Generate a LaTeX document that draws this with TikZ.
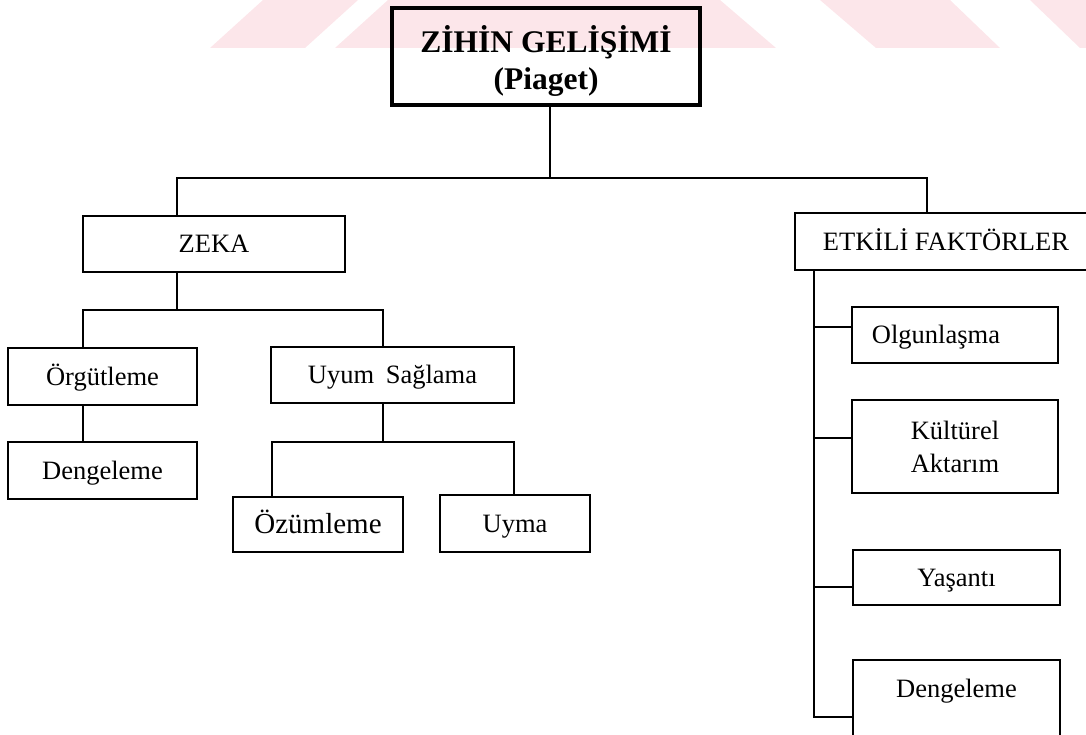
\documentclass[tikz,border=0pt]{standalone}
\usepackage{fontspec}
\setmainfont{Liberation Serif}
\definecolor{filigran}{HTML}{FCE6EA}

\begin{document}
\begin{tikzpicture}[x=1pt, y=-1pt,
  kutu/.style={draw, line width=1.6pt, inner sep=0pt, font=\fontsize{26.5}{33}\selectfont},
  satir/.style={kutu, text height=20pt, text depth=2.5pt},
  ince/.style={line width=1.8pt},
  kalin/.style={line width=2.6pt}]
\clip (0,0) rectangle (1086,735);
\fill[filigran] (210,48) -- (263,0) -- (358,0) -- (305,48) -- cycle;
\fill[filigran] (335,48) -- (388,0) -- (720,0) -- (776,48) -- cycle;
\fill[filigran] (876,48) -- (820,0) -- (950,0) -- (1000,48) -- cycle;
\fill[filigran] (1080,48) -- (1030,0) -- (1086,0) -- (1086,48) -- cycle;

\node[kutu, line width=4pt, minimum width=308pt, minimum height=97pt, align=center, font=\fontsize{31.5}{37}\selectfont\bfseries] (tepe) at (546,56.5) {\rule{0pt}{36pt}ZİHİN GELİŞİMİ\\(Piaget)};
\node[satir, minimum width=262pt, minimum height=56pt] (zeka) at (214,244) {ZEKA};
\node[satir, minimum width=302pt, minimum height=57pt] (etk) at (946,241.5) {ETKİLİ FAKTÖRLER};
\node[satir, minimum width=189pt, minimum height=57pt] (org) at (102.5,376.5) {Örgütleme};
\node[satir, minimum width=243pt, minimum height=56pt] (uyum) at (392.5,375) {Uyum\hspace{5pt} Sağlama};
\node[satir, minimum width=189pt, minimum height=57pt] (den1) at (102.5,470.5) {Dengeleme};
\node[satir, minimum width=170pt, minimum height=55pt, font=\fontsize{29}{33}\selectfont] (ozum) at (318,524.5) {Özümleme};
\node[satir, minimum width=150pt, minimum height=57pt] (uyma) at (515,523.5) {Uyma};
\node[satir, minimum width=206pt, minimum height=56pt] (olg) at (955,335) {\hspace*{-38pt}Olgunlaşma};
\node[kutu, minimum width=206pt, minimum height=93pt, align=center] (kult) at (955,446.5) {Kültürel\\Aktarım};
\node[satir, minimum width=207pt, minimum height=55pt] (yas) at (956.5,577.5) {Yaşantı};
\node[kutu, minimum width=207pt, minimum height=90pt, text height=37pt, text depth=53pt] (den2) at (956.5,705) {Dengeleme};

\coordinate (catal) at (550,178);
\draw[kalin] (tepe.south -| catal) -- (catal);
\draw[kalin] ([xshift=-37pt]zeka.north) |- (catal) -| ([xshift=-19pt]etk.north);

\coordinate (zekaalt) at (177,310);
\draw[ince] (zeka.south -| zekaalt) -- (zekaalt);
\draw[ince] ([xshift=-19.5pt]org.north) |- (zekaalt) -| ([xshift=-9.5pt]uyum.north);
\draw[ince] ([xshift=-19.5pt]org.south) -- ([xshift=-19.5pt]den1.north);
\coordinate (uyumalt) at (383,442);
\draw[ince] (uyum.south -| uyumalt) -- (uyumalt);
\draw[ince] ([xshift=-46pt]ozum.north) |- (uyumalt) -| ([xshift=-1pt]uyma.north);

\coordinate (omurga) at ([xshift=20pt]etk.south west);
\coordinate (d1) at ([yshift=8pt]olg.west);
\coordinate (d2) at ([yshift=8.5pt]kult.west);
\coordinate (d3) at ([yshift=-9.5pt]yas.west);
\coordinate (d4) at ([yshift=-12pt]den2.west);
\draw[ince] (omurga) -- (omurga |- d4) -- (d4);
\foreach \d in {d1, d2, d3}{\draw[ince] (\d -| omurga) -- (\d);}
\end{tikzpicture}
\end{document}
